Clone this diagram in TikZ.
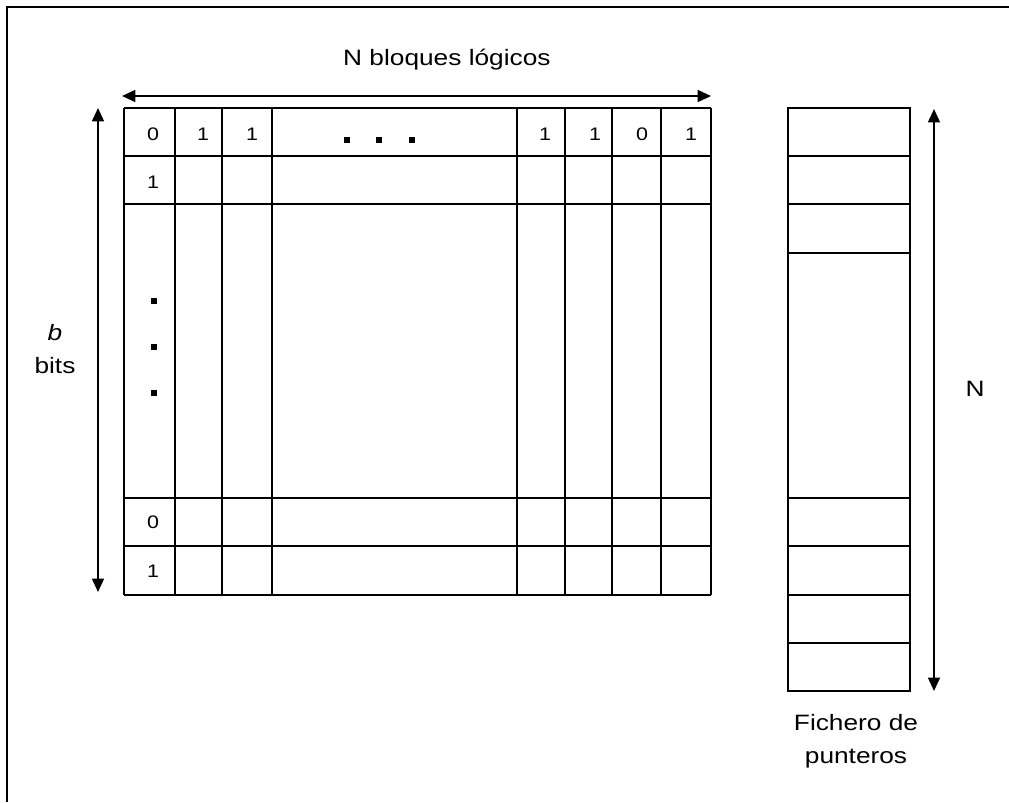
\documentclass[tikz,border=0pt]{standalone}
\usepackage{fontspec}
\setmainfont{Liberation Sans}[FakeStretch=1.18]
\usetikzlibrary{positioning, arrows.meta, calc}
\tikzset{
  gridline/.style={
    line width=1.4pt
  },
  dimarrow/.style={
    line width=1.3pt,
    {Triangle[length=4mm,width=3.6mm]}-{Triangle[length=4mm,width=3.6mm]}
  },
  bitlabel/.style={
    font=\fontsize{15.5}{17}\selectfont,
    inner sep=0pt
  },
  dimlabel/.style={
    font=\fontsize{19}{28}\selectfont,
    align=center,
    inner sep=0pt
  },
  dotmark/.style={
    fill=black,
    minimum size=4.5pt,
    inner sep=0pt
  }
}

\begin{document}
\begin{tikzpicture}[x=0.03cm, y=-0.03cm]
  \useasboundingbox (0,0) rectangle (1009,802);
  \draw[gridline] (1009,7) -- (7,7) -- (7,802);

  \foreach \x in {124,175,222,272,517,565,612,661,711}
    \draw[gridline] (\x,108) -- (\x,595);
  \foreach \y in {108,156,204,498,546,595}
    \draw[gridline] (124,\y) -- (711,\y);

  \draw[gridline] (788,108) rectangle (910,691);
  \foreach \y in {156,204,253,498,546,595,643}
    \draw[gridline] (788,\y) -- (910,\y);

  \foreach \x/\v [count=\i] in {153/0,203/1,252/1,545/1,595/1,642/0,691/1}
    \node[bitlabel] (top\i) at (\x,134) {\v};
  \node[bitlabel] (second) at (153,182) {1};
  \node[bitlabel] (penult) at (153,522) {0};
  \node[bitlabel] (last) at (153,571) {1};

  \foreach \x [count=\i] in {347,379,412}
    \node[dotmark] (hdot\i) at (\x,140) {};
  \foreach \y [count=\i] in {301,347,393}
    \node[dotmark] (vdot\i) at (154,\y) {};

  \coordinate (wl) at (122,96);
  \coordinate (wr) at (711,96);
  \coordinate (ht) at (98,108);
  \coordinate (hb) at (98,592);
  \coordinate (nt) at (934,109);
  \coordinate (nb) at (934,691);
  \draw[dimarrow] (wl) -- (wr);
  \draw[dimarrow] (ht) -- (hb);
  \draw[dimarrow] (nt) -- (nb);

  \node[dimlabel, anchor=west] (width) at (343,60) {N bloques lógicos};
  \node[dimlabel] (height) at (55,349) {\textit{b}\\bits};
  \node[dimlabel] (count) at (975,389) {N};
  \node[dimlabel] (ptrs) at (856,741) {Fichero de\\punteros};
\end{tikzpicture}
\end{document}
